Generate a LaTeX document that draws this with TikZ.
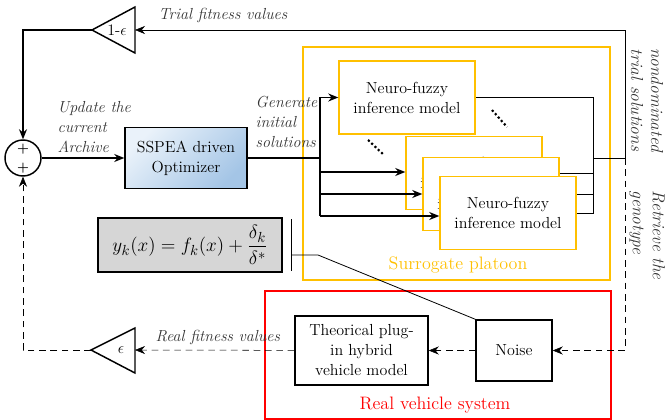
\documentclass[tikz,border=0pt]{standalone}
\usepackage{amsmath}
\usetikzlibrary{arrows.meta,backgrounds}
\definecolor{gold}{HTML}{FFC000}
\definecolor{optlight}{HTML}{EAF2FA}
\definecolor{optdark}{HTML}{A4C5E6}
\begin{document}
\begin{tikzpicture}[x=0.75pt,y=-0.75pt,
    >={Stealth[length=7.5pt,width=6pt]},
    line width=1.1pt,
    every node/.style={font=\fontsize{12}{15}\selectfont},
    blk/.style={draw, rectangle, align=center, inner sep=2pt},
    nf/.style={blk, draw=gold, fill=white, minimum width=102pt, minimum height=54.75pt},
    lbl/.style={font=\fontsize{12}{15}\selectfont\itshape, align=left, text=black!80},
    dsh/.style={dash pattern=on 5pt off 3.5pt}]
  \useasboundingbox (0,0) rectangle (666,420);

  \node[draw=gold, line width=0.8pt, minimum width=230.25pt, minimum height=174.75pt] (surr) at (456.5,163.5) {};
  \node[text=gold, font=\fontsize{13.5}{15}\selectfont] (surrlbl) at (458,265) {Surrogate platoon};
  \node[draw=red, line width=0.8pt, minimum width=259.5pt, minimum height=96pt] (real) at (438,355) {};
  \node[text=red, font=\fontsize{13.5}{15}\selectfont] (reallbl) at (435,405) {Real vehicle system};

  \node[circle, draw, minimum size=27pt] (sum) at (23,158) {};
  \node[font=\bfseries, inner sep=0pt] (plusA) at (23,149) {+};
  \node[font=\bfseries, inner sep=0pt] (plusB) at (23,168) {+};

  \node[blk, top color=optlight, bottom color=optdark, shading angle=45,
        minimum width=91.5pt, minimum height=45.75pt] (opt) at (186,158) {SSPEA driven\\Optimizer};

  \node[nf] (nf1) at (407,97.5) {Neuro-fuzzy\\inference model};
  \node[nf] (nf2) at (474,173) {Neuro-fuzzy\\inference model};
  \node[nf] (nf3) at (491,194) {Neuro-fuzzy\\inference model};
  \node[nf] (nf4) at (508,213) {Neuro-fuzzy\\inference model};

  \node[blk, fill=black!16, minimum width=138pt, minimum height=40.5pt,
        font=\fontsize{15}{18}\selectfont] (eq) at (190,245) {$y_k(x)=f_k(x)+\dfrac{\delta_k}{\delta^*}$};

  \node[blk, minimum width=99.75pt, minimum height=51.75pt] (theo) at (361.5,350.5) {Theorical plug-\\in hybrid\\vehicle model};
  \node[blk, minimum width=57pt, minimum height=45.75pt] (noise) at (514,350.5) {Noise};

  \draw (92,30) coordinate (g1) -- (135,7) -- (135,53) -- cycle;
  \coordinate (g1in) at (135,30);
  \node (g1lbl) at (117,30) {1-$\epsilon$};
  \draw (91,350) coordinate (g2) -- (135,328) -- (135,373) -- cycle;
  \coordinate (g2in) at (135,350);
  \node (g2lbl) at (121,350) {$\epsilon$};

  \coordinate (b1) at (320,97.5);
  \coordinate (b2) at (320,172);
  \coordinate (b3) at (320,194);
  \coordinate (b4) at (320,216);
  \coordinate (busR) at (593,158);
  \coordinate (outR) at (625,158);

  \draw[->] (g1) -| (sum.north);
  \draw[->] (sum) -- (opt.west);
  \draw (opt.east) -- (opt.east -| b1);
  \draw (b1) -- (b4);
  \draw[->] (b1) -- (nf1.west);
  \draw[->] (b2) -- (b2 -| nf2.west);
  \draw[->] (b3) -- (b3 -| nf3.west);
  \draw[->] (b4) -- (b4 -| nf4.west);
  \begin{pgfonlayer}{background}
    \draw (nf1.east) -| (busR |- nf4.east) -- (nf4.east);
    \draw (nf2.east) -- (nf2.east -| busR);
    \draw (nf3.east) -- (nf3.east -| busR);
  \end{pgfonlayer}
  \draw (busR) -- (outR);
  \draw[->] (outR) -- (outR |- g1in) -- (g1in);

  \draw[dsh,->] (outR) |- (noise.east);
  \draw[dsh,->] (noise) -- (theo);
  \draw[dsh,->] (theo) -- (g2in);
  \draw[dsh,->] (g2) -| (sum.south);

  \draw[line width=0.6pt] (291,219) -- (291,271);
  \draw[line width=0.6pt] (291,255) -- (318,255) -- (noise.north west);

  \draw[line width=1.6pt, dash pattern=on 1.6pt off 1.8pt] (368,140) -- (384,155);
  \draw[line width=1.6pt, dash pattern=on 1.6pt off 1.8pt] (492,110) -- (507,127);

  \node[lbl, anchor=west] (updlbl) at (53,127) {Update the\\current\\Archive};
  \node[lbl, anchor=west] (genlbl) at (251,122) {Generate\\initial\\solutions};
  \node[lbl, anchor=west] (triallbl) at (154,16) {Trial fitness values};
  \node[lbl, anchor=west] (reallbl2) at (151,337) {Real fitness values};
  \node[lbl, font=\fontsize{13}{15}\selectfont\itshape, rotate=-90, align=center] (ndlbl) at (647,100) {nondominated\\trial solutions};
  \node[lbl, font=\fontsize{13}{15}\selectfont\itshape, rotate=-90, anchor=west] (genolbl) at (647,186) {Retrieve the\\genotype};
\end{tikzpicture}
\end{document}
